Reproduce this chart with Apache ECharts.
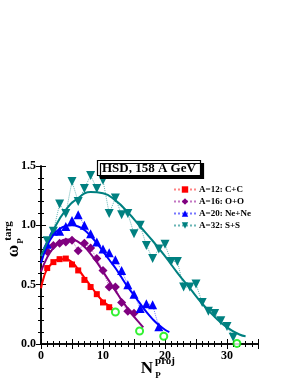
<!DOCTYPE html>
<html><head><meta charset="utf-8">
<script src="https://cdn.jsdelivr.net/npm/echarts@6/dist/echarts.min.js"></script>
<style>html,body{margin:0;padding:0;background:#fff}#c{width:295px;height:382px}</style>
</head><body><div id="c"></div>
<script>
// ---- data ----
var ccN = [1,2,3,4,5,6,7,8,9,10,11];
var ccW = [0.64,0.69,0.715,0.72,0.67,0.62,0.54,0.48,0.42,0.35,0.31];
var ccFitN = [0,0.5,1,2,3,4,5,6,7,8,9,10,11,11.5];
var ccFitW = [0.47,0.57,0.63,0.69,0.715,0.715,0.69,0.63,0.56,0.49,0.42,0.36,0.32,0.30];

var ooN = [1,2,3,4,5,6,7,8,9,10,11,12,13,14,15];
var ooW = [0.78,0.83,0.85,0.86,0.875,0.785,0.85,0.81,0.72,0.62,0.48,0.48,0.35,0.275,0.26];
var ooFitN = [0,1,2,3,4,5,6,7,8,9,10,11,12,13,14,15,16,16.5];
var ooFitW = [0.61,0.73,0.81,0.86,0.88,0.88,0.86,0.82,0.76,0.69,0.61,0.53,0.45,0.37,0.30,0.23,0.17,0.14];

var neN = [1,2,3,4,5,6,7,8,9,10,11,12,13,14,15,16,17,18,19];
var neW = [0.84,0.95,0.95,0.99,1.04,1.09,1.00,0.93,0.86,0.80,0.77,0.71,0.62,0.50,0.42,0.30,0.34,0.33,0.145];
var neFitN = [0,1,2,3,4,5,6,7,8,9,10,11,12,13,14,15,16,17,18,19,20,20.7];
var neFitW = [0.68,0.83,0.92,0.97,0.995,1.0,0.99,0.96,0.91,0.85,0.78,0.71,0.64,0.56,0.48,0.41,0.34,0.27,0.21,0.16,0.12,0.10];

var ssN = [1,2,3,4,5,6,7,8,9,10,11,12,13,14,15,16,17,18,19,20,21,22,23,24,25,26,27,28,29,30,31];
var ssW = [0.87,0.95,1.18,1.10,1.37,1.20,1.31,1.42,1.31,1.38,1.10,1.23,1.09,1.10,0.93,1.00,0.83,0.72,0.80,0.84,0.695,0.695,0.48,0.48,0.505,0.35,0.275,0.257,0.196,0.148,0.056];
var ssFitN = [0,2,4,6,8,10,12,14,16,18,20,22,24,26,28,30,32,33];
var ssFitW = [0.74,0.96,1.13,1.23,1.28,1.27,1.21,1.11,0.99,0.87,0.74,0.60,0.47,0.34,0.23,0.14,0.08,0.065];

var endN = [12,15.9,19.8,31.6];
var endW = [0.27,0.11,0.065,0.005];

var names = ['A=12: C+C','A=16: O+O','A=20: Ne+Ne','A=32: S+S'];
var xTicks = [0,10,20,30];
var yTicks = [0.0,0.5,1.0,1.5];

// ---- build ----
function pairs(a,b){return a.map(function(v,i){return [v,b[i]];});}
var F = 'Liberation Serif';
var invTri = 'path://M0,0 L10,0 L5,9 Z';

function pts(name,n,w,color,light,symbol,size){
  return {name:name,type:'line',data:pairs(n,w),symbol:symbol,symbolSize:size,
    itemStyle:{color:color},lineStyle:{type:'dotted',width:1,color:light},z:3};
}
function fit(n,w,color){
  return {type:'line',data:pairs(n,w),smooth:true,symbol:'none',
    lineStyle:{width:2,color:color},z:4,silent:true};
}
var tickStyle = {show:true,inside:true,length:5,lineStyle:{color:'#000',width:1}};
var minorStyle = {show:true,length:3,lineStyle:{color:'#000',width:1}};
var lineStyleAx = {show:true,lineStyle:{color:'#000',width:1.5}};

var option = {
  animation:false,
  backgroundColor:'#fff',
  title:{text:'HSD, 158 A GeV',left:97,top:160,padding:[2,5,1,5],
    backgroundColor:'#fff',borderColor:'#000',borderWidth:1.2,
    shadowColor:'#000',shadowOffsetX:3,shadowOffsetY:3,shadowBlur:0,
    textStyle:{fontFamily:F,fontWeight:'bold',fontSize:13,color:'#000'}},
  legend:{orient:'vertical',left:168,top:180,itemWidth:22,itemHeight:8,itemGap:3,
    data:names,textStyle:{fontFamily:F,fontWeight:'bold',fontSize:9,color:'#000',padding:[0,0,0,-2]}},
  grid:{left:41,right:37,top:166,bottom:38},
  xAxis:[
    {type:'value',min:0,max:35,interval:5,axisLine:lineStyleAx,axisTick:tickStyle,
     minorTick:Object.assign({splitNumber:5},minorStyle),splitLine:{show:false},
     axisLabel:{margin:6,fontFamily:F,fontWeight:'bold',fontSize:12,color:'#000',
       formatter:function(v){return xTicks.indexOf(v)>=0?String(v):'';}}},
    {type:'value',position:'top',min:0,max:35,interval:5,axisLine:lineStyleAx,axisTick:tickStyle,
     minorTick:Object.assign({splitNumber:5},minorStyle),splitLine:{show:false},axisLabel:{show:false}}
  ],
  yAxis:[
    {type:'value',min:0,max:1.5,interval:0.5,axisLine:lineStyleAx,axisTick:tickStyle,
     minorTick:Object.assign({splitNumber:5},minorStyle),splitLine:{show:false},
     axisLabel:{margin:5,fontFamily:F,fontWeight:'bold',fontSize:12,color:'#000',
       formatter:function(v){return yTicks.indexOf(v)>=0?v.toFixed(1):'';}}},
    {type:'value',position:'right',min:0,max:1.5,interval:0.5,axisLine:lineStyleAx,axisTick:tickStyle,
     minorTick:Object.assign({splitNumber:5},minorStyle),splitLine:{show:false},axisLabel:{show:false}}
  ],
  series:[
    pts(names[0],ccN,ccW,'#ff0000','rgba(255,80,80,0.7)','rect',6),
    pts(names[1],ooN,ooW,'#800080','rgba(170,60,170,0.7)','diamond',9),
    pts(names[2],neN,neW,'#0000ff','rgba(60,60,255,0.7)','triangle',9),
    pts(names[3],ssN,ssW,'#008080','rgba(40,150,150,0.7)',invTri,9),
    fit(ccFitN,ccFitW,'#ff0000'),
    fit(ooFitN,ooFitW,'#800080'),
    fit(neFitN,neFitW,'#0000ff'),
    fit(ssFitN,ssFitW,'#008080'),
    {type:'scatter',data:pairs(endN,endW),symbol:'circle',symbolSize:7,z:6,
     itemStyle:{color:'#fff',borderColor:'#00ee00',borderWidth:2}}
  ],
  graphic:[
    {type:'text',x:14,y:251,rotation:Math.PI/2,style:{text:'ω',font:'bold 17px '+F,fill:'#000',align:'center',verticalAlign:'middle'}},
    {type:'text',x:21,y:241,rotation:Math.PI/2,style:{text:'P',font:'bold 9px '+F,fill:'#000',align:'center',verticalAlign:'middle'}},
    {type:'text',x:8,y:231,rotation:Math.PI/2,style:{text:'targ',font:'bold 11px '+F,fill:'#000',align:'center',verticalAlign:'middle'}},
    {type:'text',x:147,y:369,style:{text:'N',font:'bold 17px '+F,fill:'#000',align:'center',verticalAlign:'middle'}},
    {type:'text',x:165,y:361,style:{text:'proj',font:'bold 11px '+F,fill:'#000',align:'center',verticalAlign:'middle'}},
    {type:'text',x:158,y:376,style:{text:'P',font:'bold 9px '+F,fill:'#000',align:'center',verticalAlign:'middle'}}
  ]
};
var chart = echarts.init(document.getElementById('c'),null,{renderer:'canvas'});
chart.setOption(option);
</script></body></html>
